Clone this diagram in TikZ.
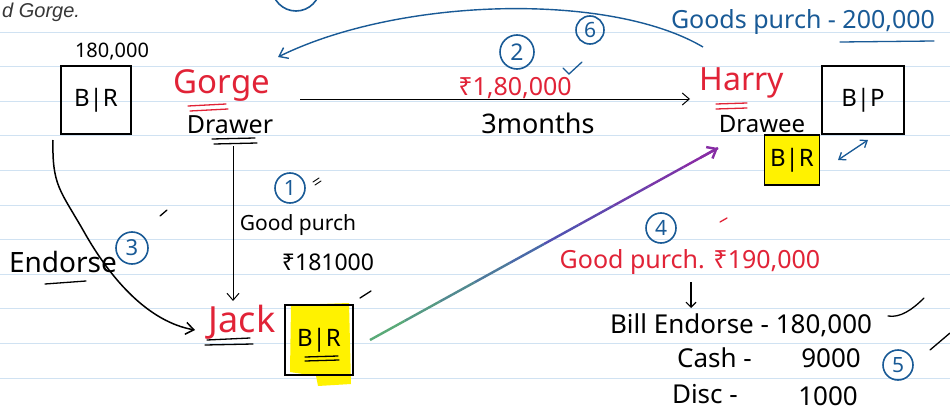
\documentclass[tikz,border=0pt]{standalone}
\usepackage{fontspec}
\setmainfont{Noto Sans}
\newfontfamily\headfont{Liberation Sans}
\usetikzlibrary{arrows.meta,calc}
\definecolor{inkred}{RGB}{225,35,55}
\definecolor{inkblue}{RGB}{25,90,150}
\definecolor{rulecol}{RGB}{208,226,242}
\definecolor{hl}{RGB}{255,242,0}
\definecolor{inkgray}{RGB}{55,55,55}
\definecolor{pgreen}{RGB}{90,170,120}
\definecolor{pblue}{RGB}{70,90,180}
\definecolor{ppurple}{RGB}{135,45,165}
\begin{document}
\begin{tikzpicture}[x=1pt,y=-1pt,
  fs/.style={font=\fontsize{#1}{#1}\selectfont},
  hand/.style={inner sep=0pt},
  redtxt/.style={hand,text=inkred},
  bluetxt/.style={hand,text=inkblue},
  billbox/.style={draw=black,line width=1.3pt,inner sep=0pt,fs=24},
  circ/.style={draw=inkblue,text=inkblue,circle,line width=1.6pt,inner sep=0pt,minimum size=#1,fs=21},
  arr/.style={-{Straight Barb[length=7pt,width=12pt]},line width=1pt},
  pen/.style={line width=1.3pt,line cap=round},
  redpen/.style={pen,draw=inkred},
  bluepen/.style={pen,draw=inkblue}]
\useasboundingbox (0,0) rectangle (950,412);
\clip (0,0) rectangle (950,412);
\fill[white] (0,0) rectangle (950,412);
% ruled lines
\foreach \k in {0,...,10} \draw[rulecol,line width=0.8pt] (0,32+34.6*\k) -- (950,32+34.6*\k);

% heading fragment and partial circle
\node[hand,anchor=west,text=inkgray,font=\headfont\itshape\fontsize{20}{20}\selectfont] (head) at (2,12) {d Gorge.};
\draw[inkblue,line width=1.6pt] (296,-13) circle (24);

% nodes
\node[hand,fs=20] (amt) at (112,52) {180,000};
\node[billbox,minimum width=70pt,minimum height=68pt] (br1) at (96,100) {B|R};
\node[redtxt,fs=33] (gorge) at (222,86) {Gorge};
\node[hand,fs=25] (drawer) at (230,125) {Drawer};
\node[redtxt,fs=25] (amt2) at (515,88) {₹1,80,000};
\node[hand,fs=27] (months) at (538,123) {3months};
\node[redtxt,fs=32] (harry) at (742,83) {Harry};
\node[hand,fs=24] (drawee) at (762,124) {Drawee};
\node[billbox,minimum width=82pt,minimum height=68pt] (bp) at (863,100) {B|P};
\node[billbox,fill=hl,minimum width=55pt,minimum height=50pt] (br2) at (792,160) {B|R};
\node[bluetxt,fs=25] (goods6) at (803,22) {Goods purch - 200,000};
\node[circ=28pt] (c6) at (590,30) {6};
\node[circ=34pt,fs=23] (c2) at (517,52) {2};
\node[circ=30pt] (c1) at (290,188) {1};
\node[hand,fs=21] (gp1) at (298,225) {Good purch};
\node[hand,fs=23] (gp1amt) at (328,262) {₹181000};
\node[hand,fs=28] (endorse) at (63,262) {Endorse};
\node[circ=32pt,fs=22] (c3) at (132,248) {3};
\node[redtxt,fs=36] (jack) at (242,322) {Jack};
% Jack's bill with highlight
\fill[hl] (291,305) -- (349,303) -- (351,384) -- (318,386) -- (316,376) -- (290,372) -- cycle;
\node[billbox,minimum width=68pt,minimum height=70pt] (br3) at (319,340) {B|R};
\draw[pen] (305,357) -- (338,356) (305,361) -- (339,360);
\node[circ=30pt] (c4) at (661,228) {4};
\node[redtxt,fs=25] (gp4) at (690,262) {Good purch. ₹190,000};
\node[hand,fs=26] (be) at (741,325) {Bill Endorse - 180,000};
\node[hand,fs=26,anchor=east] (cash) at (752,358) {Cash -};
\node[hand,fs=26] (cashamt) at (831,358) {9000};
\node[hand,fs=26,anchor=east] (disc) at (738,394) {Disc -};
\node[hand,fs=26] (discamt) at (828,396) {1000};
\node[circ=30pt] (c5) at (898,365) {5};

% underlines
\draw[redpen] (188,106) -- (226,104) (190,111) -- (228,109);
\draw[pen] (212,139) -- (255,138) (214,144) -- (257,143);
\draw[redpen] (716,104) -- (747,103) (716,109) -- (747,108);
\draw[bluepen] (840,42) -- (934,41);
\draw[pen] (45,284) -- (86,281);
\draw[pen] (207,340) -- (250,338) (205,345) -- (253,344);

% connectors
\coordinate (vtop) at (233,146);
\coordinate (vbot) at (233,301);
\draw[arr] (vtop) -- (vbot);
\coordinate (htail) at (300,99);
\coordinate (hhead) at (690,99);
\draw[arr] (htail) -- (hhead);
\coordinate (arcstart) at (703,47);
\coordinate (arcend) at (278,57);
\draw[inkblue,line width=1.4pt,-{Straight Barb[length=8pt,width=12pt]}] (arcstart) .. controls (610,-8) and (400,-3) .. (arcend);
\coordinate (curvestart) at (53,140);
\coordinate (curvemid) at (83,230);
\coordinate (curveend) at (195,330);
\draw[line width=1.5pt,-{Straight Barb[length=8pt,width=12pt]}] (curvestart) .. controls (52,185) and (60,190) .. (curvemid) .. controls (112,282) and (150,322) .. (curveend);
\draw[inkblue,line width=1.3pt,{Straight Barb[length=6pt,width=9pt]}-{Straight Barb[length=6pt,width=9pt]}] (838,160) -- (868,140);
% gradient arrow Jack's bill -> Harry
\coordinate (ps) at (370,340);
\coordinate (pe) at (718,148);
\foreach \i in {0,...,9}{
  \pgfmathsetmacro{\a}{\i/10}
  \pgfmathsetmacro{\b}{(\i+1)/10}
  \pgfmathtruncatemacro{\mix}{min(100,\i*20)}
  \ifnum\i<5
    \colorlet{segc}{pblue!\mix!pgreen}
  \else
    \pgfmathtruncatemacro{\mixb}{(\i-4)*20}
    \colorlet{segc}{ppurple!\mixb!pblue}
  \fi
  \draw[segc,line width=2.4pt] ($(ps)!\a!(pe)$) -- ($(ps)!\b!(pe)$);
}
\draw[ppurple,line width=2.4pt,-{Straight Barb[length=8pt,width=13pt]}] ($(ps)!0.95!(pe)$) -- (pe);
\coordinate (dtop) at (691,282);
\coordinate (dbot) at (691,308);
\draw[line width=1.1pt,-{Straight Barb[length=5pt,width=10pt]}] (dtop) -- (dbot);

% check marks and stray marks
\draw[bluepen] (563,68) -- (569,74) -- (582,62);
\draw[pen] (888,316) .. controls (900,318) and (912,310) .. (924,298);
\draw[pen] (930,350) -- (950,333);
\draw[pen] (160,216) -- (167,210);
\draw[pen] (360,298) -- (371,291);
\draw[redpen] (720,222) -- (727,218);
\draw[pen,line width=0.9pt] (313,182) -- (319,178) (315,185) -- (321,181);
\end{tikzpicture}
\end{document}
